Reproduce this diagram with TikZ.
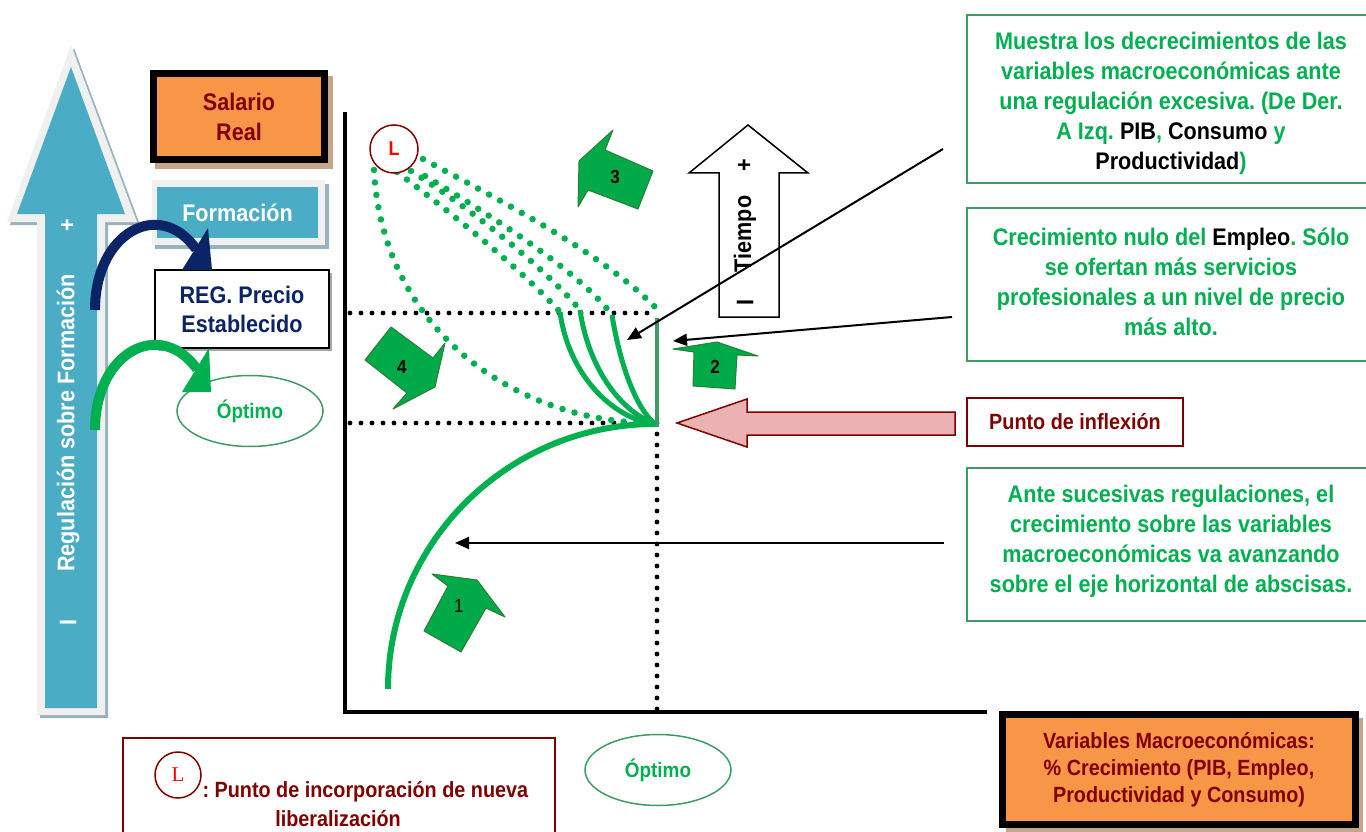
\documentclass[tikz,border=0pt]{standalone}
\usepackage{fontspec}
\setmainfont{Liberation Sans}[FakeStretch=0.9]
\newfontfamily\serifL{Liberation Serif}
\usetikzlibrary{arrows.meta,shapes.geometric}
\definecolor{grn}{HTML}{00B050}
\definecolor{grnb}{HTML}{3D9B65}
\definecolor{dred}{HTML}{800000}
\definecolor{orng}{HTML}{F79646}
\definecolor{skyb}{HTML}{4BACC6}
\definecolor{navy}{HTML}{0B2466}
\definecolor{pinkf}{HTML}{EAB2B2}
\definecolor{shadb}{HTML}{97B3BE}
\definecolor{shadt}{HTML}{C8A488}
\definecolor{lgray}{HTML}{F0F0F0}
\definecolor{arrg}{HTML}{00AA48}
\definecolor{arrgd}{HTML}{2E7D32}
\newcommand\myfs[2]{\fontsize{#1}{#2}\selectfont\bfseries}
\frenchspacing
\tikzset{
  gtxt/.style={font=\myfs{24}{30}, text=grn, align=center},
  gbox/.style={draw=grnb, line width=2pt, minimum width=409pt},
  garrow/.style={fill=arrg, draw=arrgd, line width=1pt, line join=round},
  albl/.style={font=\myfs{19}{22}, text=black},
  blk/.style={line width=2pt, -{Triangle[length=14pt,width=12pt]}},
  dotk/.style={line width=4.8pt, line cap=round, dash pattern=on 0pt off 11pt},
  dotg/.style={grn, line width=6.5pt, line cap=round, dash pattern=on 0pt off 12.5pt},
  solg/.style={grn, line width=5pt},
  wtxt/.style={font=\myfs{24}{30}, text=white},
  oval/.style={ellipse, draw=grnb, line width=1.5pt, minimum width=146pt, minimum height=71pt, text=grn, font=\myfs{21}{25}},
}
\begin{document}
\begin{tikzpicture}[x=1pt,y=-1pt]
\useasboundingbox[fill=white] (0,0) rectangle (1366,832);

% ---- left big arrow
\fill[shadb] (74,48) -- (140,225) -- (108,225) -- (108,718) -- (40,718) -- (40,225) -- (10,225) -- cycle;
\fill[lgray] (71,45) -- (137,222) -- (105,222) -- (105,715) -- (37,715) -- (37,222) -- (7,222) -- cycle;
\fill[skyb] (71,67) -- (125,214) -- (97,214) -- (97,708) -- (45,708) -- (45,214) -- (17,214) -- cycle;
\node[wtxt, rotate=90] (lplus) at (68,225) {+};
\node[wtxt, rotate=90] (lreg) at (68,423) {Regulación sobre Formación};
\node[wtxt, rotate=90] (lI) at (68,622) {I};

% ---- Salario Real
\fill[shadt] (155,76) rectangle (333,169);
\node[draw=black, line width=7pt, fill=orng, minimum width=171pt, minimum height=86pt,
      font=\myfs{24}{30}, text=dred, align=center] (sal) at (239,116.5) {Salario\\Real};

% ---- Formacion
\fill[shadb] (155,184) rectangle (329,249);
\fill[lgray] (152,180) rectangle (325,245);
\node[fill=skyb, minimum width=161pt, minimum height=51pt, text=white, font=\myfs{24}{30}] (form) at (237.5,212.5) {Formación};

% ---- REG box
\fill[black!35] (158,273) rectangle (332,351);
\node[draw, line width=1.2pt, fill=white, minimum width=174pt, minimum height=78pt,
      text=navy, align=center, font=\myfs{24}{29}] (reg) at (242,309) {REG. Precio\\Establecido};

% ---- Optimo (left)
\node[oval] (opt1) at (250,411) {Óptimo};

% ---- curved arrows
\coordinate (navS) at (95,310);
\coordinate (navE) at (196,249);
\draw[navy, line width=10pt] (navS) .. controls (95,232) and (160,198) .. (navE);
\fill[navy] (182,270) -- (208,228) -- (212,270) -- cycle;
\coordinate (grS) at (95,430);
\coordinate (grE) at (197,369);
\draw[grn, line width=10pt] (grS) .. controls (95,352) and (160,318) .. (grE);
\fill[grn] (182,392) -- (209,348) -- (211,392) -- cycle;

% ---- axes
\coordinate (O) at (345,712);
\coordinate (Ytop) at (345,112);
\coordinate (Xend) at (987,712);
\draw[line width=4pt] (Ytop) -- (O) -- (Xend);

% ---- dotted reference lines
\coordinate (P) at (657,423);
\coordinate (Q) at (657,313);
\coordinate (PL) at (350,423);
\coordinate (QL) at (350,313);
\coordinate (PB) at (657,712);
\draw[dotk] (QL) -- (Q);
\draw[dotk] (PL) -- (P);
\draw[dotk] (P) -- (PB);

% ---- main green curve
\coordinate (C0) at (388,689);
\coordinate (C1) at (655,424);
\draw[grn, line width=6pt] (C0) .. controls (388,543) and (508,424) .. (C1);

% ---- vertical green segment
\draw[grnb, line width=4pt] (657,318) -- (657,427);

% ---- solid green curves
\coordinate (S1) at (560,312);
\coordinate (S2) at (580,310);
\coordinate (S3) at (612,315);
\draw[solg] (S1) .. controls (568,372) and (610,418) .. (C1);
\draw[solg] (S2) .. controls (588,365) and (618,410) .. (C1);
\draw[solg] (S3) .. controls (620,365) and (636,408) .. (C1);

% ---- dotted green curves from L
\draw[dotg] (374,170) .. controls (382,320) and (500,415) .. (640,423);
\draw[dotg] (397,172) .. controls (450,212) and (520,268) .. (S1);
\draw[dotg] (411,171) .. controls (470,208) and (545,268) .. (S2);
\draw[dotg] (425,176) .. controls (490,215) and (580,272) .. (S3);
\draw[dotg] (423,159) .. controls (480,190) and (600,250) .. (657,309);

% ---- L circle
\node[circle, draw=dred, line width=1.5pt, fill=white, minimum size=48pt, inner sep=0pt,
      text=red, font=\myfs{20}{24}] (L) at (394,149) {L};

% ---- green block arrows
\draw[garrow] (424,631) -- (448,586) -- (432,574) -- (477,580) -- (505,617) -- (486,608) -- (461,652) -- cycle;
\node[font=\fontsize{19}{22}\selectfont] (n1) at (459,606) {1};
\draw[garrow] (693,386) -- (694,352) -- (673,349) -- (717,342) -- (758,356) -- (737,355) -- (735,389) -- cycle;
\node[albl] (n2) at (715,367) {2};
\draw[garrow] (653,171) -- (605,150) -- (613,130) -- (579,161) -- (578,207) -- (588,190) -- (638,209) -- cycle;
\node[albl] (n3) at (615,177) {3};
\draw[garrow] (391,327) -- (433,358) -- (445,343) -- (435,387) -- (393,409) -- (407,393) -- (365,360) -- cycle;
\node[albl] (n4) at (402,367) {4};

% ---- Tiempo arrow
\draw[line width=1.5pt, fill=white] (719,317) -- (719,173) -- (689,173) -- (748,125) -- (808,173) -- (779,173) -- (779,317) -- cycle;
\node[rotate=90, font=\myfs{24}{30}] (tplus) at (745,165) {+};
\node[rotate=90, font=\myfs{24}{30}] (tiem) at (745,234) {Tiempo};
\node[rotate=90, font=\myfs{24}{30}] (tI) at (745,302) {I};

% ---- pink arrow
\draw[dred, fill=pinkf, line width=1.5pt] (677,423) -- (747,399) -- (747,412) -- (955,412) -- (955,435) -- (747,435) -- (747,447) -- cycle;

% ---- right boxes
\node[gbox, minimum height=168pt] (b1) at (1171.5,99) {};
\node[gtxt] (t1) at (1171,103) {Muestra los decrecimientos de las\\variables macroeconómicas ante\\una regulación excesiva. (De Der.\\A Izq. \textcolor{black}{PIB}, \textcolor{black}{Consumo} y\\\textcolor{black}{Productividad})};
\node[gbox, minimum height=153pt] (b2) at (1171.5,284.5) {};
\node[gtxt] (t2) at (1171,282) {Crecimiento nulo del \textcolor{black}{Empleo}. Sólo\\se ofertan más servicios\\profesionales a un nivel de precio\\más alto.};
\node[draw=dred, line width=1.5pt, minimum width=216pt, minimum height=48pt, text=dred, font=\myfs{22}{26}] (infl) at (1075,422) {Punto de inflexión};
\node[gbox, minimum height=153pt] (b3) at (1171.5,544.5) {};
\node[gtxt] (t3) at (1171,541) {Ante sucesivas regulaciones, el\\crecimiento sobre las variables\\macroeconómicas va avanzando\\sobre el eje horizontal de abscisas.};

% ---- black pointer arrows
\coordinate (a1s) at (943,149);
\coordinate (a1e) at (627,340);
\coordinate (a2s) at (952,317);
\coordinate (a2e) at (673,341);
\coordinate (a3s) at (944,543);
\coordinate (a3e) at (455,543);
\draw[blk] (a1s) -- (a1e);
\draw[blk] (a2s) -- (a2e);
\draw[blk] (a3s) -- (a3e);

% ---- bottom Optimo
\node[oval] (opt2) at (658,770) {Óptimo};

% ---- Variables box
\fill[shadt] (1006,718) rectangle (1363,834);
\node[draw=black, line width=7pt, fill=orng, minimum width=353pt, minimum height=110pt,
      text=dred, align=center, font=\myfs{22}{27}] (vars) at (1179,769.5) {Variables Macroeconómicas:\\\% Crecimiento (PIB, Empleo,\\Productividad y Consumo)};

% ---- bottom-left legend
\draw[dred, line width=1.5pt] (123,738) rectangle (555,850);
\node[circle, draw=dred, line width=1.5pt, minimum size=46pt, inner sep=0pt, text=red,
      font=\serifL\fontsize{21}{24}\selectfont] (L2) at (178,775) {L};
\node[anchor=west, text=dred, font=\myfs{22}{26}] (lt1) at (199,792) {: Punto de incorporación de nueva};
\node[text=dred, font=\myfs{22}{26}] (lt2) at (338,819) {liberalización};
\end{tikzpicture}
\end{document}
